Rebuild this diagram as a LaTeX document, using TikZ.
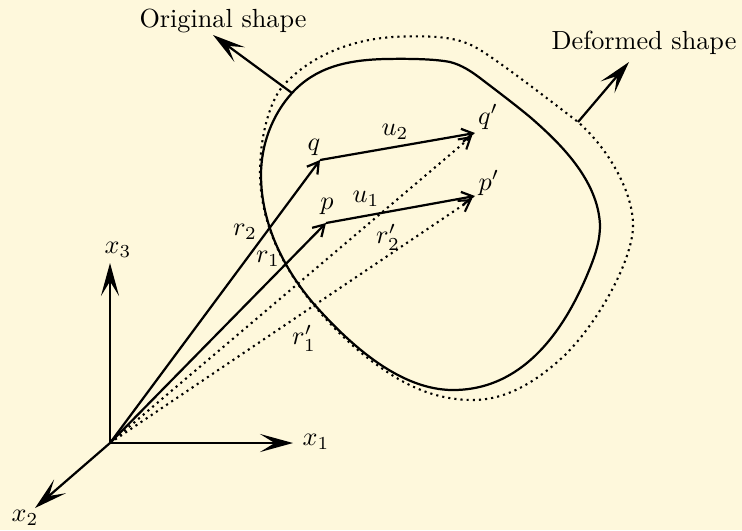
\documentclass[tikz,border=0pt]{standalone}
\usepackage{amsmath,amssymb}
\usepackage{tikz}
\usetikzlibrary{positioning,arrows.meta}
\definecolor{figpaper}{HTML}{FEF8DC}
\tikzset{
  bigarrow/.style={-{Stealth[length=12.6pt,width=6.9pt,inset=5.6pt]}, line width=0.85pt},
  vecarrow/.style={-{Straight Barb[length=4.2pt,width=5pt]}, line width=0.85pt},
  dotline/.style={line width=0.8pt, dash pattern=on 0.8pt off 1.55pt},
  dotarrow/.style={dotline, -{Straight Barb[length=4.2pt,width=5pt]}},
  shapeline/.style={line width=0.85pt},
  veclabel/.style={inner sep=0pt, font=\normalsize},
}

\begin{document}
\begin{tikzpicture}[x=0.3816pt,y=-0.3816pt]
  \fill[figpaper] (0,0) rectangle (742,530);
  \useasboundingbox (0,0) rectangle (742,530);
  % the two outlines
  \draw[shapeline] (292,93) .. controls (315,68) and (345,60) .. (385,59)
    .. controls (410,58.5) and (435,59) .. (450,62)
    .. controls (462,65) and (472,72) .. (480,78)
    .. controls (497,91) and (513,103) .. (530,117)
    .. controls (560,143) and (598,180) .. (600,225)
    .. controls (600,240) and (596,253) .. (590,268)
    .. controls (570,318) and (530,390) .. (453,390)
    .. controls (400,390) and (350,345) .. (313,303)
    .. controls (285,270) and (261,225) .. (261,175)
    .. controls (261,145) and (272,115) .. (292,93) -- cycle;
  \draw[dotline] (282,87) .. controls (310,55) and (355,37) .. (405,36.5)
    .. controls (430,36) and (455,36) .. (475,47)
    .. controls (490,55) and (530,85) .. (578,122)
    .. controls (610,150) and (634,195) .. (633,227)
    .. controls (632,260) and (600,320) .. (565,355)
    .. controls (530,388) and (500,400) .. (473,400)
    .. controls (435,400) and (405,385) .. (380,367)
    .. controls (355,350) and (330,325) .. (313,304)
    .. controls (285,270) and (260,225) .. (260,172)
    .. controls (260,140) and (268,105) .. (282,87) -- cycle;
  % points
  \coordinate (origin) at (110,443);
  \coordinate (q) at (320,160);
  \coordinate (p) at (326,223);
  \coordinate (qd) at (475,133);
  \coordinate (pd) at (475,196);
  \coordinate (qdot) at (472,136);
  \coordinate (pdot) at (472,199);
  \coordinate (x1end) at (293,443);
  \coordinate (x2end) at (35,508);
  \coordinate (x3end) at (110,263);
  \coordinate (origfoot) at (292,93);
  \coordinate (origtip) at (213,35);
  \coordinate (deffoot) at (578,122);
  \coordinate (deftip) at (629,62);
  % axes
  \draw[bigarrow] (origin) -- (x1end);
  \draw[bigarrow] (origin) -- (x2end);
  \draw[bigarrow] (origin) -- (x3end);
  % vectors
  \draw[vecarrow] (origin) -- (q);
  \draw[vecarrow] (origin) -- (p);
  \draw[vecarrow] (q) -- (qd);
  \draw[vecarrow] (p) -- (pd);
  \draw[dotarrow] (origin) -- (qdot);
  \draw[dotarrow] (origin) -- (pdot);
  \draw[bigarrow] (origfoot) -- (origtip);
  \draw[bigarrow] (deffoot) -- (deftip);
  % labels
  \node[veclabel] (lx1) at (316,442) {$x_1$};
  \node[veclabel] (lx2) at (25,518) {$x_2$};
  \node[veclabel] (lx3) at (118,250) {$x_3$};
  \node[veclabel] (lq) at (314,147) {$q$};
  \node[veclabel] (lp) at (327,206) {$p$};
  \node[veclabel] (lqd) at (488,117) {$q'$};
  \node[veclabel] (lpd) at (489,183) {$p'$};
  \node[veclabel] (lu2) at (395,132) {$u_2$};
  \node[veclabel] (lu1) at (366,199) {$u_1$};
  \node[veclabel] (lr2) at (245,232) {$r_2$};
  \node[veclabel] (lr1) at (268,259) {$r_1$};
  \node[veclabel] (lr2d) at (388,237) {$r'_2$};
  \node[veclabel] (lr1d) at (304,338) {$r'_1$};
  \node[veclabel] (orig) at (223,21) {Original shape};
  \node[veclabel] (def) at (644,43) {Deformed shape};
\end{tikzpicture}
\end{document}
